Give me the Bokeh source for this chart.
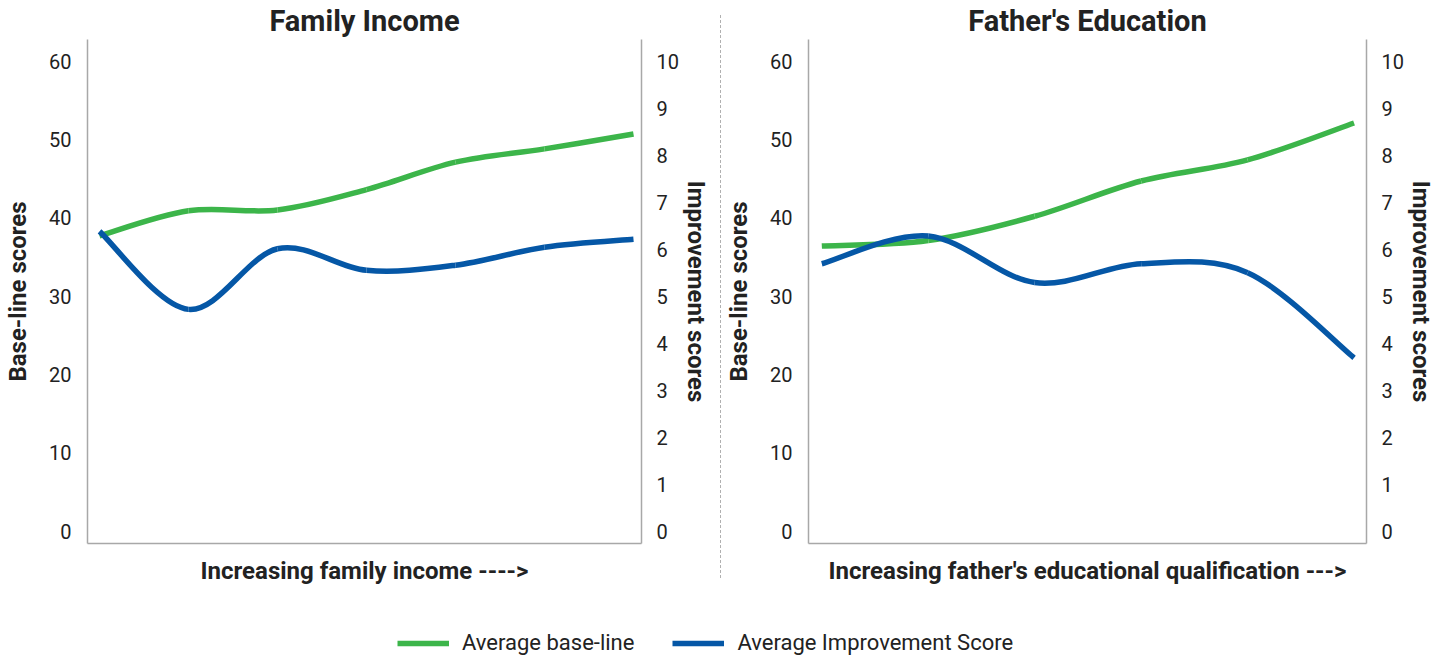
from bokeh.plotting import figure
from bokeh.models import (Range1d, LinearAxis, FixedTicker, Legend, LegendItem, Div)
from bokeh.layouts import row, column
from bokeh.embed import file_html
from bokeh.resources import INLINE

# --- data -----------------------------------------------------------------
income_levels = [1, 2, 3, 4, 5, 6, 7]
income_baseline = [37.7, 40.9, 41.0, 43.6, 47.1, 48.8, 50.7]
income_improvement = [6.38, 4.72, 6.01, 5.55, 5.66, 6.04, 6.21]

edu_levels = [1, 2, 3, 4, 5, 6]
edu_baseline = [36.4, 37.1, 40.2, 44.7, 47.4, 52.1]
edu_improvement = [5.69, 6.28, 5.29, 5.69, 5.50, 3.69]

baseline_ticks = [0, 10, 20, 30, 40, 50, 60]
improvement_ticks = [0, 1, 2, 3, 4, 5, 6, 7, 8, 9, 10]

panel_titles = ["Family Income", "Father's Education"]
x_titles = ["Increasing family income ---->",
            "Increasing father's educational qualification --->"]
legend_labels = ["Average base-line", "Average Improvement Score"]

# --- style ----------------------------------------------------------------
GREEN = "#3cb54a"
BLUE = "#0557a6"
SPINE = "#a8a8a8"
TEXT = "#222222"
FONT = "Roboto"


def smooth_segments(xs, ys):
    """Catmull-Rom style cubic segments through every point."""
    n = len(xs)
    seg = dict(x0=[], y0=[], x1=[], y1=[], cx0=[], cy0=[], cx1=[], cy1=[])
    for i in range(n - 1):
        a = max(i - 1, 0)
        b = min(i + 2, n - 1)
        seg["x0"].append(xs[i])
        seg["y0"].append(ys[i])
        seg["x1"].append(xs[i + 1])
        seg["y1"].append(ys[i + 1])
        seg["cx0"].append(xs[i] + (xs[i + 1] - xs[a]) / 6.0)
        seg["cy0"].append(ys[i] + (ys[i + 1] - ys[a]) / 6.0)
        seg["cx1"].append(xs[i + 1] - (xs[b] - xs[i]) / 6.0)
        seg["cy1"].append(ys[i + 1] - (ys[b] - ys[i]) / 6.0)
    return seg


def panel(title, xlabel, xs, base, imp, width, xr, border_left, border_right):
    p = figure(width=width, height=600, output_backend="svg",
               toolbar_location=None, x_range=Range1d(*xr),
               y_range=Range1d(-1.57, 62.76),
               min_border_left=border_left, min_border_right=border_right,
               min_border_top=38, min_border_bottom=57,
               y_axis_location=None, x_axis_location=None)
    p.extra_y_ranges = {"imp": Range1d(-0.26, 10.46)}
    p.grid.visible = False
    p.outline_line_color = None
    p.background_fill_color = "white"
    p.border_fill_color = "white"

    p.title.text = title
    p.title.align = "center"
    p.title.text_font = FONT
    p.title.text_font_size = "29px"
    p.title.text_font_style = "bold"
    p.title.text_color = TEXT
    p.title.standoff = 3

    def style_axis(ax, label, standoff, label_standoff):
        ax.axis_label = label
        ax.axis_label_text_font = FONT
        ax.axis_label_text_font_size = "24px"
        ax.axis_label_text_font_style = "bold"
        ax.axis_label_text_color = TEXT
        ax.axis_label_standoff = standoff
        ax.major_label_standoff = label_standoff
        ax.major_label_text_font = FONT
        ax.major_label_text_font_size = "20px"
        ax.major_label_text_color = TEXT
        ax.major_tick_line_color = None
        ax.minor_tick_line_color = None
        ax.axis_line_color = SPINE
        ax.axis_line_width = 1.5

    left = LinearAxis(ticker=FixedTicker(ticks=baseline_ticks))
    style_axis(left, "Base-line scores", 14, 10)
    p.add_layout(left, "left")

    right = LinearAxis(y_range_name="imp",
                       ticker=FixedTicker(ticks=improvement_ticks))
    style_axis(right, "Improvement scores", 0, 9)
    p.add_layout(right, "right")

    bottom = LinearAxis(ticker=FixedTicker(ticks=[]))
    bottom.axis_label = xlabel
    bottom.axis_label_text_font = FONT
    bottom.axis_label_text_font_size = "24px"
    bottom.axis_label_text_font_style = "bold"
    bottom.axis_label_text_color = TEXT
    bottom.axis_label_standoff = 13
    bottom.major_tick_line_color = None
    bottom.minor_tick_line_color = None
    bottom.axis_line_color = SPINE
    bottom.axis_line_width = 1.5
    p.add_layout(bottom, "below")

    g = smooth_segments(xs, base)
    p.bezier(source=g, x0="x0", y0="y0", x1="x1", y1="y1",
             cx0="cx0", cy0="cy0", cx1="cx1", cy1="cy1",
             line_color=GREEN, line_width=5.5)
    b = smooth_segments(xs, imp)
    p.bezier(source=b, x0="x0", y0="y0", x1="x1", y1="y1",
             cx0="cx0", cy0="cy0", cx1="cx1", cy1="cy1",
             line_color=BLUE, line_width=5.5, y_range_name="imp")
    return p


p1 = panel(panel_titles[0], x_titles[0], income_levels, income_baseline,
           income_improvement, 719, (0.865, 7.09), 87, 78)
p2 = panel(panel_titles[1], x_titles[1], edu_levels, edu_baseline,
           edu_improvement, 717, (0.875, 6.117), 86, 73)

# dashed divider between the two panels
sep = Div(text="", width=1, height=563, margin=(15, 1, 22, 1),
          styles={"border-left": "1px dashed #b0b0b0"})

# shared legend strip (sample lines sit outside the visible range)
leg = figure(width=1439, height=57, output_backend="svg", toolbar_location=None,
             x_range=Range1d(0, 1), y_range=Range1d(0, 1), min_border=0,
             x_axis_location=None, y_axis_location=None)
leg.grid.visible = False
leg.outline_line_color = None
r_green = leg.line(x=[-3, -2], y=[-3, -3], line_color=GREEN, line_width=5.5)
r_blue = leg.line(x=[-3, -2], y=[-3, -3], line_color=BLUE, line_width=5.5)
legend = Legend(items=[LegendItem(label=legend_labels[0], renderers=[r_green]),
                       LegendItem(label=legend_labels[1], renderers=[r_blue])],
                orientation="horizontal", location=(397, 2), margin=0,
                padding=0, spacing=38, glyph_width=52, label_standoff=13,
                border_line_color=None, background_fill_alpha=0,
                label_text_font=FONT, label_text_font_size="22px",
                label_text_color=TEXT)
leg.add_layout(legend, "center")

layout = column(row(p1, sep, p2), leg)

open("out.html", "w").write(file_html(layout, INLINE))
